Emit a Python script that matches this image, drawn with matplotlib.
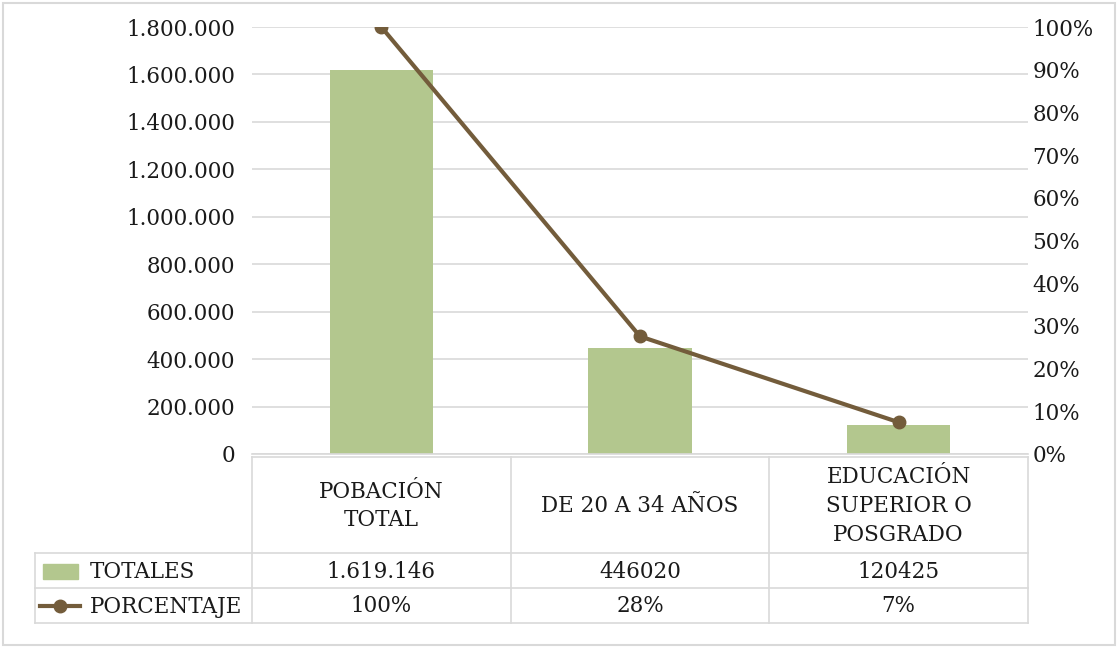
import matplotlib
matplotlib.use("Agg")
import matplotlib.pyplot as plt
from matplotlib.lines import Line2D
from matplotlib.patches import Rectangle
from matplotlib.ticker import FuncFormatter
import numpy as np

# --- data -----------------------------------------------------------------
categorias = ["POBACIÓN\nTOTAL", "DE 20 A 34 AÑOS", "EDUCACIÓN\nSUPERIOR O\nPOSGRADO"]
totales = [1619146, 446020, 120425]
totales_txt = ["1.619.146", "446020", "120425"]
serie_barras = "TOTALES"
serie_linea = "PORCENTAJE"
porcentaje = [t / totales[0] for t in totales]

# --- style ----------------------------------------------------------------
VERDE = "#B3C78E"
CAFE = "#735C3B"
GRIS = "#D9D9D9"
TEXTO = "#1a1a1a"
FUENTE = ["DejaVu Serif"]
FS = 15.5

plt.rcParams["font.family"] = FUENTE

W, H = 1118, 648
fig = plt.figure(figsize=(W / 100, H / 100), dpi=100)
fig.patch.set_facecolor("white")

def fx(px):
    return px / W

def fy(py):
    return 1 - py / H

# plot area (pixels): left 252, right 1028, top 27, bottom 454
L, R, T, B = 252, 1028, 27, 454
ax = fig.add_axes([fx(L), fy(B), fx(R - L), (B - T) / H])
x = np.arange(len(totales))
ax.bar(x, totales, width=0.4, color=VERDE, zorder=2)
ax.set_xlim(-0.5, len(totales) - 0.5)
ax.set_ylim(0, 1800000)
ax.set_yticks(np.arange(0, 1800001, 200000))
ax.yaxis.set_major_formatter(FuncFormatter(lambda v, p: f"{int(v):,}".replace(",", ".")))
ax.set_xticks([])
ax.grid(axis="y", color=GRIS, linewidth=1.2, zorder=0)
ax.set_axisbelow(True)
for s in ["top", "right", "left"]:
    ax.spines[s].set_visible(False)
ax.spines["bottom"].set_color(GRIS)
ax.spines["bottom"].set_linewidth(1.2)
ax.tick_params(axis="y", length=0, pad=12, labelsize=FS, labelcolor=TEXTO)

ax2 = ax.twinx()
ax2.plot(x, porcentaje, color=CAFE, linewidth=3, marker="o", markersize=9, zorder=3)
ax2.set_ylim(0, 1)
ax2.set_yticks(np.arange(0, 1.0001, 0.1))
ax2.yaxis.set_major_formatter(FuncFormatter(lambda v, p: f"{v*100:.0f}%"))
for s in ["top", "right", "left", "bottom"]:
    ax2.spines[s].set_visible(False)
ax2.tick_params(axis="y", length=0, pad=3, labelsize=FS, labelcolor=TEXTO)

# --- data table underneath ------------------------------------------------
tab = fig.add_axes([0, 0, 1, 1], zorder=5)
tab.set_xlim(0, W)
tab.set_ylim(H, 0)
tab.axis("off")
tab.patch.set_alpha(0)

cols = [L + (R - L) * i / 3 for i in range(4)]
rows = [457, 553, 588, 623]
LEG = 35

def hline(y, x0, x1):
    tab.add_line(Line2D([x0, x1], [y, y], color=GRIS, linewidth=1.2))

def vline(xv, y0, y1):
    tab.add_line(Line2D([xv, xv], [y0, y1], color=GRIS, linewidth=1.2))

hline(rows[0], L, R)
for r in rows[1:]:
    hline(r, LEG, R)
for c in cols:
    vline(c, rows[0], rows[-1])
vline(LEG, rows[1], rows[-1])

for i, cat in enumerate(categorias):
    cx = (cols[i] + cols[i + 1]) / 2
    tab.text(cx, (rows[0] + rows[1]) / 2 + 1, cat, ha="center", va="center",
             fontsize=FS, color=TEXTO, linespacing=1.4)
    tab.text(cx, (rows[1] + rows[2]) / 2 + 1, totales_txt[i], ha="center", va="center",
             fontsize=FS, color=TEXTO)
    tab.text(cx, (rows[2] + rows[3]) / 2 + 1, f"{porcentaje[i]*100:.0f}%", ha="center",
             va="center", fontsize=FS, color=TEXTO)

# legend keys
tab.add_patch(Rectangle((43, 564), 35, 15, color=VERDE))
tab.text(90, (rows[1] + rows[2]) / 2 + 1, serie_barras, ha="left", va="center",
         fontsize=FS, color=TEXTO)
tab.add_line(Line2D([40, 80], [606, 606], color=CAFE, linewidth=3))
tab.add_line(Line2D([60], [606], color=CAFE, marker="o", markersize=9))
tab.text(90, (rows[2] + rows[3]) / 2 + 1, serie_linea, ha="left", va="center",
         fontsize=FS, color=TEXTO)

# chart frame
tab.add_patch(Rectangle((3, 3), W - 6, H - 6, fill=False, edgecolor=GRIS, linewidth=1.5))

fig.savefig("out.png", dpi=100, facecolor="white")
